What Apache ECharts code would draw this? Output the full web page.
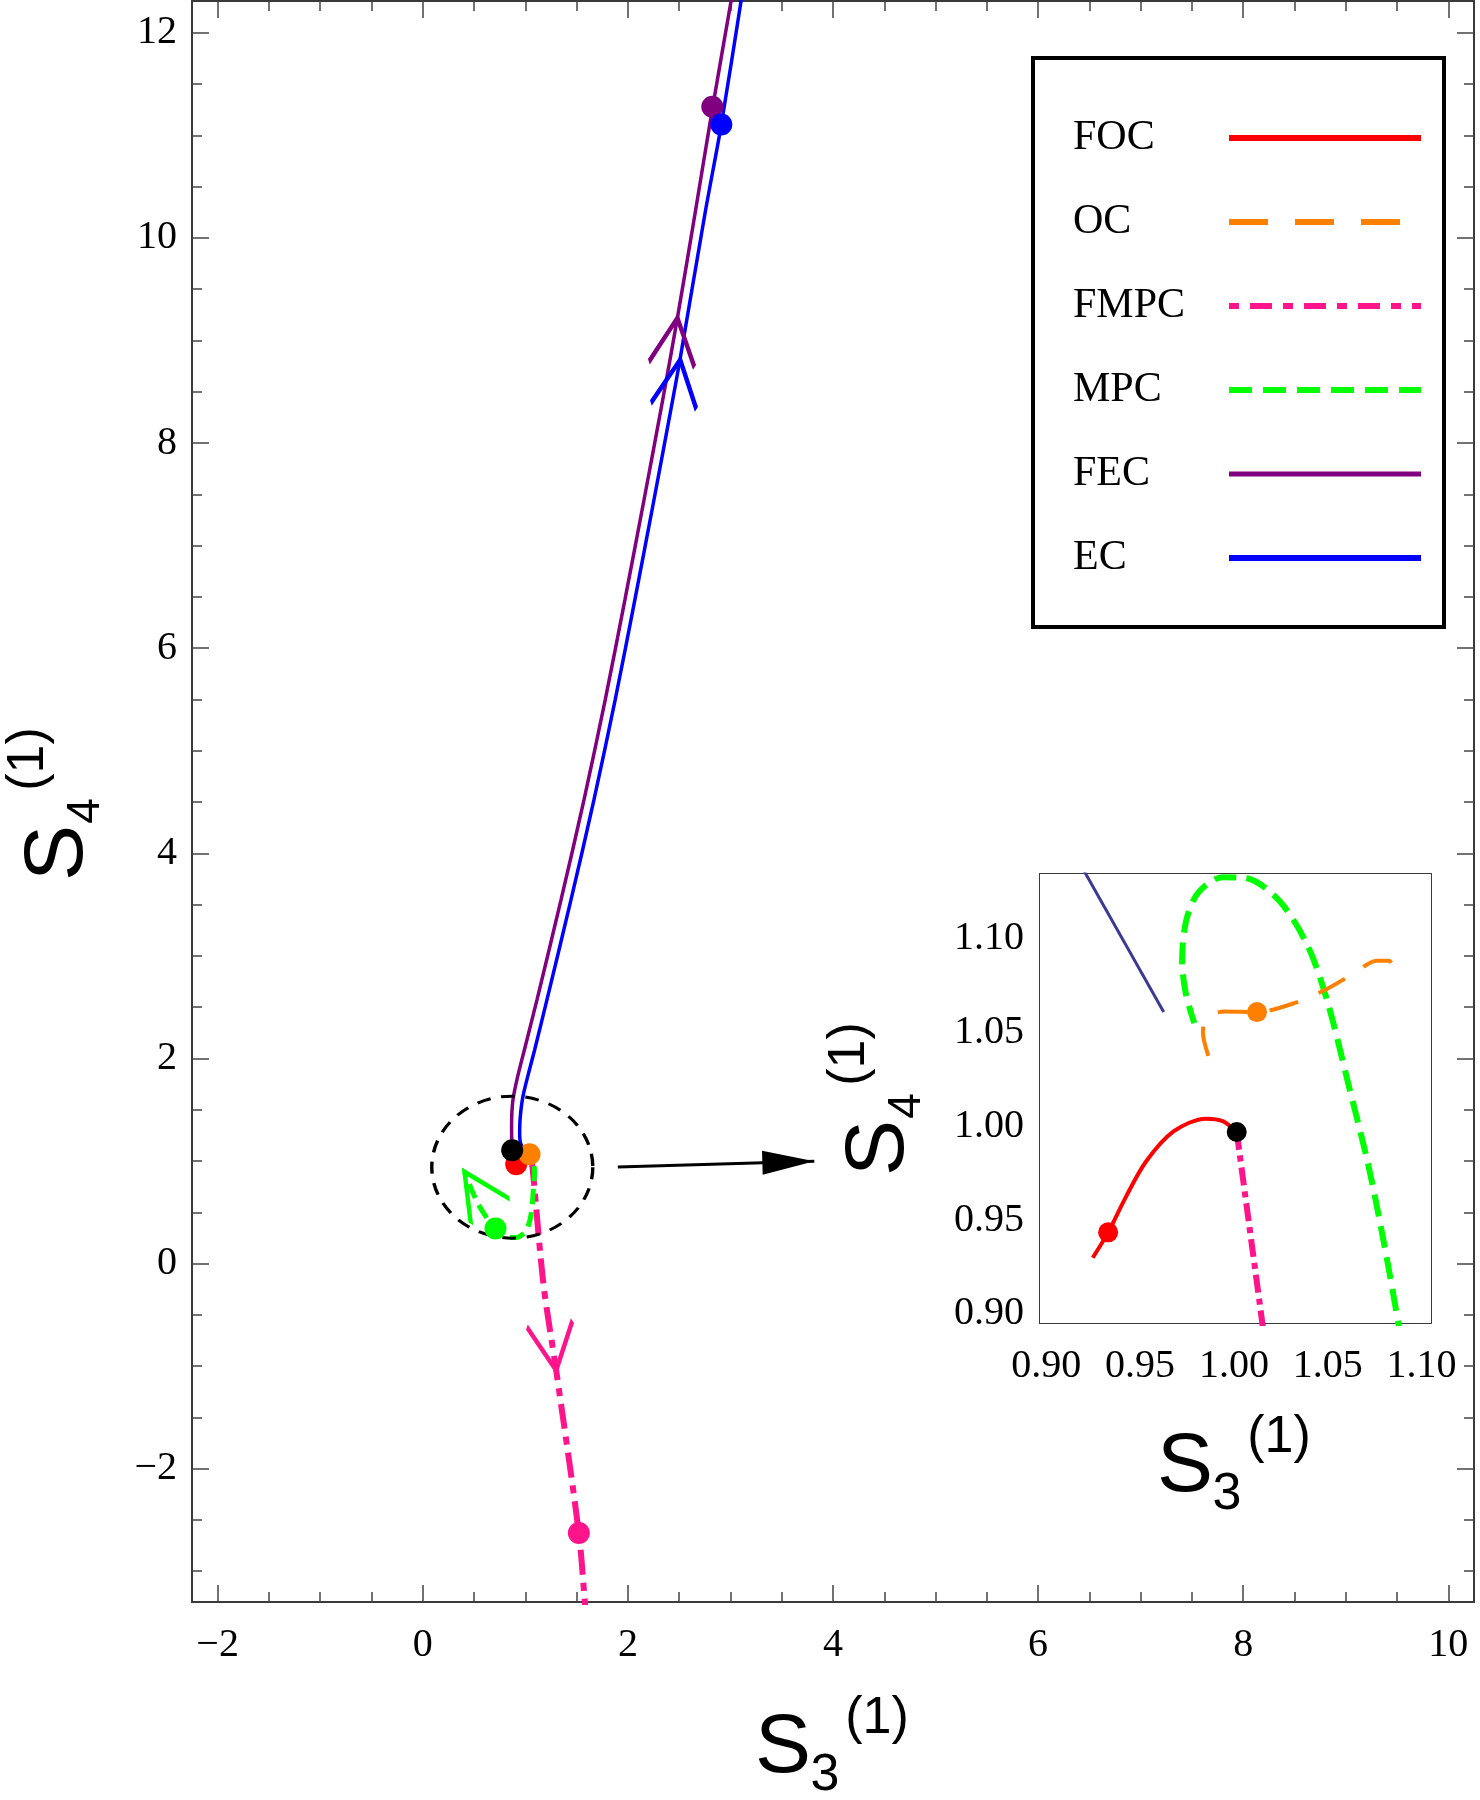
<!DOCTYPE html>
<html><head><meta charset="utf-8">
<script src="https://cdn.jsdelivr.net/npm/echarts@6/dist/echarts.min.js"></script>
<style>html,body{margin:0;padding:0;background:#fff}#c{width:1480px;height:1800px}</style>
</head><body><div id="c"></div>
<script>
// ---------- tick values ----------
const xMajorTicks = [-2, 0, 2, 4, 6, 8, 10];
const yMajorTicks = [-2, 0, 2, 4, 6, 8, 10, 12];
const xMinorTicks = [-2,-1.5,-1,-0.5,0,0.5,1,1.5,2,2.5,3,3.5,4,4.5,5,5.5,6,6.5,7,7.5,8,8.5,9,9.5,10];
const yMinorTicks = [-3,-2.5,-2,-1.5,-1,-0.5,0,0.5,1,1.5,2,2.5,3,3.5,4,4.5,5,5.5,6,6.5,7,7.5,8,8.5,9,9.5,10,10.5,11,11.5,12];
const insetXMajorTicks = [0.90, 0.95, 1.00, 1.05, 1.10];
const insetYMajorTicks = [0.90, 0.95, 1.00, 1.05, 1.10];
const insetXMinorTicks = [0.90,0.91,0.92,0.93,0.94,0.95,0.96,0.97,0.98,0.99,1.00,1.01,1.02,1.03,1.04,1.05,1.06,1.07,1.08,1.09,1.10];
const insetYMinorTicks = [0.90,0.91,0.92,0.93,0.94,0.95,0.96,0.97,0.98,0.99,1.00,1.01,1.02,1.03,1.04,1.05,1.06,1.07,1.08,1.09,1.10,1.11,1.12,1.13];

// ---------- legend ----------
const legendNames = ['FOC', 'OC', 'FMPC', 'MPC', 'FEC', 'EC'];

// ---------- main panel curves ----------
const fecMain = [[0.872,1.105],[0.866,1.30],[0.868,1.45],[0.88,1.60],[0.92,1.80],[0.99,2.08],[1.113,2.569],[1.348,3.545],[1.572,4.52],[1.779,5.496],[1.971,6.471],[2.158,7.45],[2.340,8.422],[2.483,9.22],[2.657,10.25],[2.827,11.278],[3.009,12.325],[3.03,12.45]];
const ecMain = [[1.0,1.10],[0.955,1.17],[0.945,1.27],[0.95,1.42],[0.976,1.625],[1.03,1.85],[1.09,2.08],[1.21,2.569],[1.445,3.545],[1.669,4.52],[1.876,5.496],[2.068,6.471],[2.255,7.45],[2.437,8.422],[2.508,8.813],[2.754,10.25],[2.911,11.105],[3.106,12.325],[3.126,12.45]];
const fmpcMain = [[1.06,1.0],[1.073,0.91],[1.178,-0.212],[1.301,-1.042],[1.522,-2.628],[1.578,-3.268],[1.585,-3.36]];
const mpcMain = [[1.085,0.95],[1.09,0.894],[1.080,0.747],[1.058,0.488],[1.009,0.325],[0.911,0.254],[0.814,0.266],[0.709,0.341],[0.618,0.455],[0.521,0.618],[0.407,0.894]];
// main panel markers
const dotFOC = [0.911, 0.969];
const dotOC = [1.041, 1.066];
const dotStart = [0.872, 1.105];
const dotMPC = [0.709, 0.341];
const dotFMPC = [1.522, -2.628];
const dotFEC = [2.823, 11.278];
const dotEC = [2.911, 11.105];
const arrowFEC = [2.483, 9.22];
const arrowEC = [2.51, 8.813];
const arrowFMPC = [1.301, -1.042];
const arrowMPC = [0.407, 0.894];
const zoomCircle = [0.873, 0.94];
const zoomArrow = [[1.902, 0.942], [3.818, 0.998]];

// ---------- inset curves ----------
const focInset = [[0.9248,0.930],[0.933,0.9435],[0.942,0.9615],[0.953,0.981],[0.968,0.9974],[0.985,1.0041],[0.994,1.0028],[1.0015,0.997]];
const fmpcInset = [[1.0015,0.997],[1.0165,0.885]];
const mpcInset = [[1.0895,0.885],[1.088,0.893],[1.0804,0.9354],[1.0717,0.9789],[1.061,1.0224],[1.050,1.0659],[1.0393,1.0963],[1.0242,1.1202],[1.0069,1.1322],[0.994,1.1328],[0.981,1.1246],[0.9745,1.1094],[0.9724,1.0876],[0.9745,1.0702],[0.9789,1.055]];
const ocInset = [[0.9864,1.0376],[0.9835,1.050],[0.9855,1.058],[0.995,1.0612],[1.0123,1.0609],[1.0328,1.0659],[1.050,1.0735],[1.065,1.0822],[1.076,1.0883],[1.0826,1.0883],[1.084,1.087]];
const ecInset = [[0.918,1.14],[0.9626,1.061]];
const dotFOCInset = [0.933, 0.9435];
const dotStartInset = [1.0015, 0.997];
const dotOCInset = [1.0123, 1.0609];

// ---------- styles ----------
const SERIF = '"Liberation Serif", "Times New Roman", serif';
const SANS = '"Liberation Sans", Arial, sans-serif';
const C = {FOC:'#ff0000', OC:'#ff8000', FMPC:'#ff148c', MPC:'#00ff00', FEC:'#800080', EC:'#0000ff', ECi:'#3a3a94'};
const legendLine = {
  FOC: {color:C.FOC, width:6, type:'solid'},
  OC: {color:C.OC, width:6, type:[39,27]},
  FMPC: {color:C.FMPC, width:6, type:[10,11,22,11]},
  MPC: {color:C.MPC, width:6, type:[23,11]},
  FEC: {color:C.FEC, width:5, type:'solid'},
  EC: {color:C.EC, width:6, type:'solid'}
};
// chevron arrow head with its tip at the symbol centre
const chevron = 'path://M-0.438,0.899 L0,0 L0.438,0.899 M0,-0.899';
// filled arrow head (tip at centre) inside a square box
const arrowHead = 'path://M0,0 L0.46,2 L-0.46,2 Z M0,-2 M-2,0 M2,0';

const mainFmt = v => (v < 0 ? '\u2212' + (-v) : String(v));
const insetFmt = v => v.toFixed(2);

function vAxis(o) {
  return {
    type: 'value', gridIndex: o.grid, position: o.pos, min: o.min, max: o.max,
    axisLine: {show: !!o.line, onZero: false, lineStyle: {color: '#3a3a3a', width: 2}},
    axisTick: {show: true, inside: true, length: o.len, customValues: o.ticks, lineStyle: {color: '#444', width: 1.5}},
    axisLabel: o.labels ? {show: true, customValues: o.labels, margin: o.margin, color: '#000',
      fontFamily: SERIF, fontSize: 40, formatter: o.fmt, padding: o.pad || 0} : {show: false},
    splitLine: {show: false}, minorTick: {show: false}, minorSplitLine: {show: false}
  };
}
const MX = [-2.25, 10.25], MY = [-3.3, 12.31];
const IX = [0.8967, 1.105], IY = [0.8952, 1.1345];
const xAxes = [
  vAxis({grid:0,pos:'bottom',min:MX[0],max:MX[1],ticks:xMajorTicks,len:17,line:true,labels:xMajorTicks,margin:23,fmt:mainFmt}),
  vAxis({grid:0,pos:'bottom',min:MX[0],max:MX[1],ticks:xMinorTicks,len:10}),
  vAxis({grid:0,pos:'top',min:MX[0],max:MX[1],ticks:xMajorTicks,len:17,line:true}),
  vAxis({grid:0,pos:'top',min:MX[0],max:MX[1],ticks:xMinorTicks,len:10}),
  vAxis({grid:1,pos:'bottom',min:IX[0],max:IX[1],ticks:insetXMajorTicks,len:11,line:true,labels:insetXMajorTicks,margin:23,fmt:insetFmt}),
  vAxis({grid:1,pos:'bottom',min:IX[0],max:IX[1],ticks:insetXMinorTicks,len:6}),
  vAxis({grid:1,pos:'top',min:IX[0],max:IX[1],ticks:insetXMajorTicks,len:11,line:true}),
  vAxis({grid:1,pos:'top',min:IX[0],max:IX[1],ticks:insetXMinorTicks,len:6})
];
const yAxes = [
  vAxis({grid:0,pos:'left',min:MY[0],max:MY[1],ticks:yMajorTicks,len:17,line:true,labels:yMajorTicks,margin:15,fmt:mainFmt,pad:[6,0,0,0]}),
  vAxis({grid:0,pos:'left',min:MY[0],max:MY[1],ticks:yMinorTicks,len:10}),
  vAxis({grid:0,pos:'right',min:MY[0],max:MY[1],ticks:yMajorTicks,len:17,line:true}),
  vAxis({grid:0,pos:'right',min:MY[0],max:MY[1],ticks:yMinorTicks,len:10}),
  vAxis({grid:1,pos:'left',min:IY[0],max:IY[1],ticks:insetYMajorTicks,len:11,line:true,labels:insetYMajorTicks,margin:16,fmt:insetFmt,pad:[8,0,0,0]}),
  vAxis({grid:1,pos:'left',min:IY[0],max:IY[1],ticks:insetYMinorTicks,len:6}),
  vAxis({grid:1,pos:'right',min:IY[0],max:IY[1],ticks:insetYMajorTicks,len:11,line:true}),
  vAxis({grid:1,pos:'right',min:IY[0],max:IY[1],ticks:insetYMinorTicks,len:6})
];

function line(name, data, color, width, type, inset) {
  return {type:'line', name, data, xAxisIndex: inset ? 4 : 0, yAxisIndex: inset ? 4 : 0,
    symbol:'none', showSymbol:false, smooth:0.3, z:2, silent:true,
    lineStyle:{color, width, type, cap:'butt'}, itemStyle:{color}};
}
function dot(name, pt, color, size, inset, z) {
  return {type:'scatter', name, data:[pt], xAxisIndex: inset ? 4 : 0, yAxisIndex: inset ? 4 : 0,
    symbol:'circle', symbolSize:size, z:z || 5, silent:true, itemStyle:{color, opacity:1}};
}
function arrow(name, pt, color, rot) {
  return {type:'scatter', name, data:[pt], xAxisIndex:0, yAxisIndex:0, symbol:chevron,
    symbolSize:[46, 94], symbolRotate:rot, z:4, silent:true,
    itemStyle:{color:'rgba(0,0,0,0)', borderColor:color, borderWidth:5, opacity:1}};
}
function title(cx, cy, sub, subSize, vertical) {
  const t = (x, y, text, size) => ({type:'text', x, y, style:{text, fontFamily:SANS, fontSize:size, fill:'#000', align:'center', verticalAlign:'middle'}});
  return {type:'group', x:cx, y:cy, rotation: vertical ? Math.PI / 2 : 0,
    children:[t(0, 0, 'S', 84), t(42, 27, sub, subSize), t(94, -30, '(1)', 52)]};
}

const series = [
  // main panel
  line('FEC', fecMain, C.FEC, 3.5, 'solid', false),
  line('EC', ecMain, C.EC, 3.5, 'solid', false),
  line('FMPC', fmpcMain, C.FMPC, 6, [25,8,8,8], false),
  line('MPC', mpcMain, C.MPC, 5, [15,8], false),
  {type:'scatter', name:'zoomRegion', data:[zoomCircle], xAxisIndex:0, yAxisIndex:0, symbol:'circle',
    symbolSize:[161,142], z:3, silent:true,
    itemStyle:{color:'rgba(0,0,0,0)', borderColor:'#000', borderWidth:3.2, borderType:[13,10], opacity:1}},
  {type:'lines', name:'zoomArrow', coordinateSystem:'cartesian2d', xAxisIndex:0, yAxisIndex:0, silent:true,
    data:[{coords: zoomArrow}], symbol:['none', arrowHead], symbolSize:[10, 104], z:3,
    lineStyle:{color:'#000', width:3, opacity:1, curveness:0}},
  arrow('aFEC', arrowFEC, C.FEC, -7),
  arrow('aEC', arrowEC, C.EC, -8),
  arrow('aFMPC', arrowFMPC, C.FMPC, 188),
  arrow('aMPC', arrowMPC, C.MPC, 33),
  dot('dFOC', dotFOC, C.FOC, 22, false, 5),
  dot('dOC', dotOC, C.OC, 22, false, 6),
  dot('dStart', dotStart, '#000', 22, false, 7),
  dot('dMPC', dotMPC, C.MPC, 22, false, 5),
  dot('dFMPC', dotFMPC, C.FMPC, 22, false, 5),
  dot('dFEC', dotFEC, C.FEC, 22, false, 5),
  dot('dEC', dotEC, C.EC, 22, false, 6),
  // inset
  line('FOC', focInset, C.FOC, 4, 'solid', true),
  line('FMPC', fmpcInset, C.FMPC, 6, [18,6,6,6], true),
  line('MPC', mpcInset, C.MPC, 6, [22,10], true),
  line('OC', ocInset, C.OC, 4, [30,22], true),
  line('EC', ecInset, C.ECi, 3, 'solid', true),
  dot('iFOC', dotFOCInset, C.FOC, 20, true, 5),
  dot('iStart', dotStartInset, '#000', 20, true, 6),
  dot('iOC', dotOCInset, C.OC, 20, true, 5)
];

const chart = echarts.init(document.getElementById('c'), null, {renderer:'canvas'});
chart.setOption({
  animation: false,
  backgroundColor: '#fff',
  grid: [
    {left:192, top:1, width:1282, height:1601, containLabel:false, outerBoundsMode:'none', show:false},
    {left:1040, top:874, width:391, height:449, containLabel:false, outerBoundsMode:'none', show:true,
      backgroundColor:'#fff', borderWidth:0, borderColor:'rgba(0,0,0,0)', z:1}
  ],
  xAxis: xAxes,
  yAxis: yAxes,
  legend: {
    orient:'vertical', left:1033, top:58, align:'right',
    padding:[59, 20, 48, 40], itemGap:42, itemWidth:192, itemHeight:14,
    borderColor:'#000', borderWidth:4, backgroundColor:'#fff', selectedMode:false,
    itemStyle:{opacity:0},
    formatter:'{t|{name}}',
    textStyle:{color:'#000', rich:{t:{width:151, align:'left', fontFamily:SERIF, fontSize:42, lineHeight:40, color:'#000'}}},
    data: legendNames.map(n => ({name:n, lineStyle:legendLine[n], itemStyle:{opacity:0}}))
  },
  graphic: [
    title(783, 1749, '3', 52, false),
    title(59, 853, '4', 46, true),
    title(880, 1148, '4', 46, true),
    title(1185, 1468, '3', 52, false)
  ],
  series
});
</script>
</body></html>
